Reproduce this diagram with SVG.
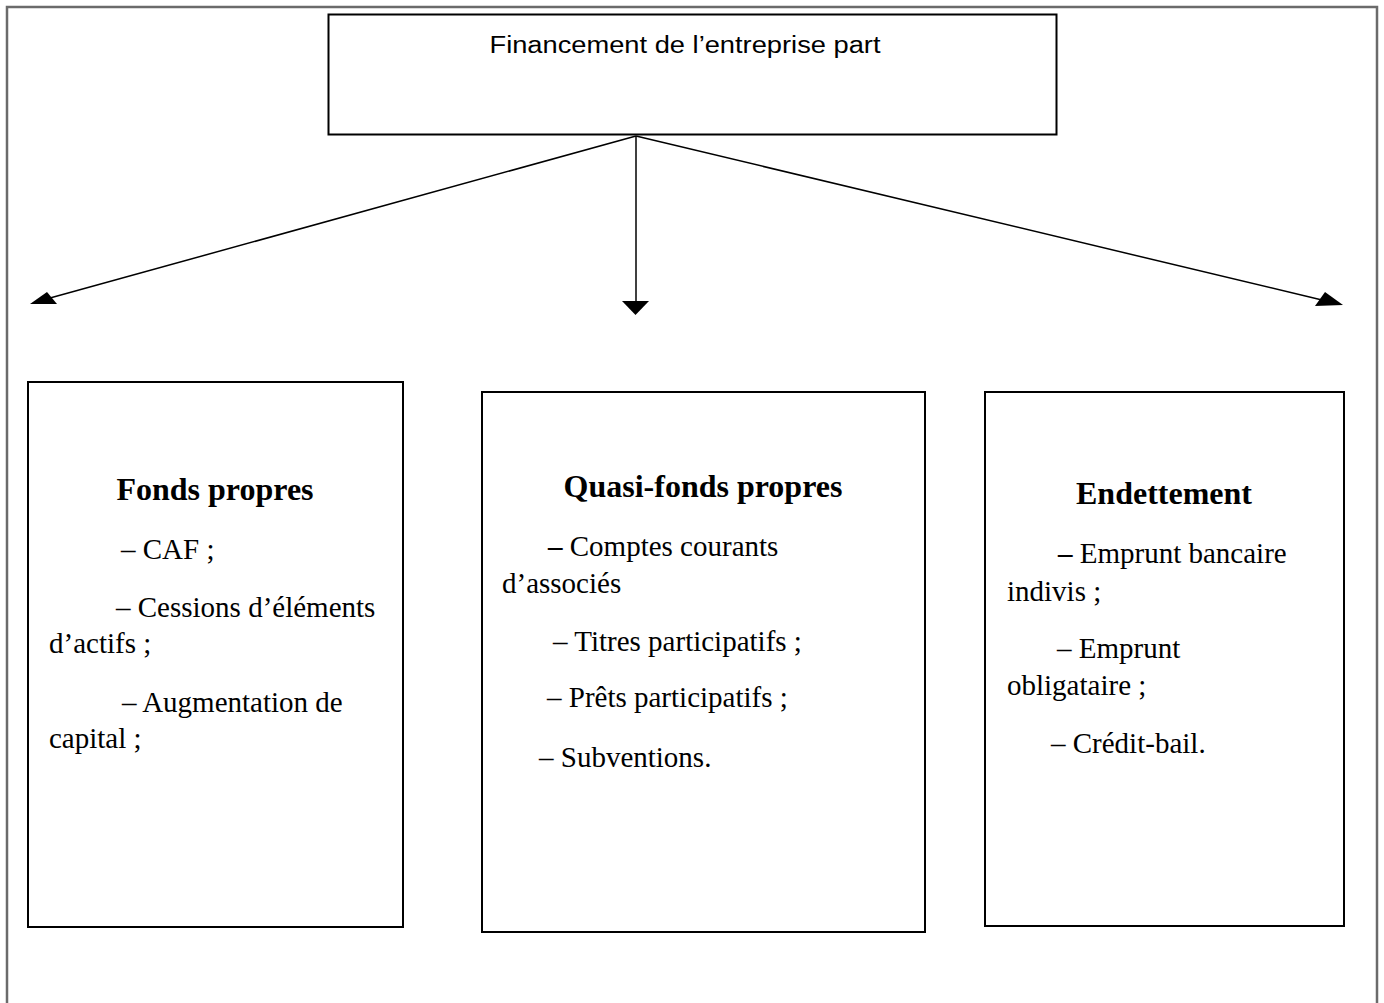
<svg xmlns="http://www.w3.org/2000/svg" width="1384" height="1003" viewBox="0 0 1384 1003">
<style>
.frame{fill:none;stroke:#6b6b6b;stroke-width:2.5}
.box{fill:#fff;stroke:#000;stroke-width:2}
.conn{stroke:#000;stroke-width:1.5;fill:none}
.head-arrow{fill:#000;stroke:none}
.title{font-family:"Liberation Sans",Arial,sans-serif;font-size:23px;fill:#000}
.head{font-family:"Liberation Serif","Times New Roman",serif;font-size:32px;font-weight:bold;fill:#000}
.body{font-family:"Liberation Serif","Times New Roman",serif;font-size:29px;fill:#000}
.bd{font-weight:bold}
</style>
<rect width="1384" height="1003" fill="#fff"/>
<path class="frame" d="M7,1003 V7 H1377 V1003"/>

<g id="top">
<rect class="box" x="328.5" y="14.5" width="728" height="120"/>
<text class="title" x="685" y="53" text-anchor="middle" textLength="391" lengthAdjust="spacingAndGlyphs">Financement de l’entreprise part</text>
</g>

<g id="connectors">
<line class="conn" x1="636" y1="136" x2="50" y2="298"/>
<polygon class="head-arrow" points="30,304 47,292 57,304"/>
<line class="conn" x1="636" y1="136" x2="636" y2="302"/>
<polygon class="head-arrow" points="622,301 649,301 635.5,315"/>
<line class="conn" x1="636" y1="136" x2="1322" y2="300"/>
<polygon class="head-arrow" points="1343,305 1325,292 1315,306"/>
</g>

<g id="fonds-propres">
<rect class="box" x="28" y="382" width="375" height="545"/>
<text class="head" x="215" y="500" text-anchor="middle">Fonds propres</text>
<text class="body" x="121" y="559">– CAF ;</text>
<text class="body" x="116" y="617">– Cessions d’éléments</text>
<text class="body" x="49" y="653">d’actifs ;</text>
<text class="body" x="122" y="712">– Augmentation de</text>
<text class="body" x="49" y="748">capital ;</text>
</g>

<g id="quasi-fonds-propres">
<rect class="box" x="482" y="392" width="443" height="540"/>
<text class="head" x="703" y="497" text-anchor="middle">Quasi-fonds propres</text>
<text class="body" x="548" y="556"><tspan class="bd">–</tspan> Comptes courants</text>
<text class="body" x="502" y="593">d’associés</text>
<text class="body" x="553" y="651">– Titres participatifs ;</text>
<text class="body" x="547" y="707">– Prêts participatifs ;</text>
<text class="body" x="539" y="767">– Subventions.</text>
</g>

<g id="endettement">
<rect class="box" x="985" y="392" width="359" height="534"/>
<text class="head" x="1164" y="504" text-anchor="middle">Endettement</text>
<text class="body" x="1058" y="563"><tspan class="bd">–</tspan> Emprunt bancaire</text>
<text class="body" x="1007" y="601">indivis ;</text>
<text class="body" x="1057" y="658">– Emprunt</text>
<text class="body" x="1007" y="695">obligataire ;</text>
<text class="body" x="1051" y="753">– Crédit-bail.</text>
</g>
</svg>
